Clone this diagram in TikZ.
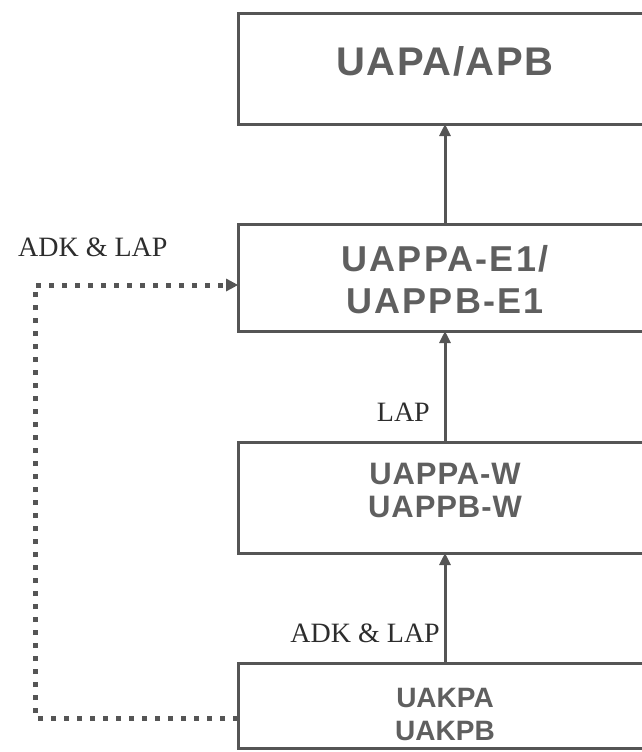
\documentclass[tikz,border=0pt]{standalone}
\usepackage{fontspec}
\setmainfont{Liberation Serif}
\newfontfamily\boxfont{Liberation Sans}
\usetikzlibrary{arrows.meta}
\definecolor{edgegray}{RGB}{85,85,85}
\definecolor{textgray}{RGB}{95,95,95}
\definecolor{labelgray}{RGB}{45,45,45}
\begin{document}
\begin{tikzpicture}[x=1pt,y=-1pt,
  box/.style={draw=edgegray,line width=3pt,minimum width=414pt,inner sep=0pt,outer sep=0pt,anchor=north west},
  boxtext/.style={text=textgray,font=\boxfont\bfseries,align=center,inner sep=0pt,anchor=base},
  lbl/.style={text=labelgray,inner sep=0pt,font=\fontsize{28}{30}\selectfont},
  uparrow/.style={draw=edgegray,line width=3pt,-{Triangle[length=12pt,width=11pt]}},
  dotline/.style={draw=edgegray,line width=5pt,dash pattern=on 5pt off 8pt,-{Triangle[length=12pt,width=13pt,line width=0pt]}}]
\useasboundingbox (0,0) rectangle (642,752);
\clip (0,0) rectangle (642,752);
% boxes
\node[box,minimum height=110pt] (b1) at (238,14) {};
\node[box,minimum height=107pt] (b2) at (238,224) {};
\node[box,minimum height=111pt] (b3) at (238,442) {};
\node[box,minimum height=85pt] (b4) at (238,663) {};
% box texts
\node[boxtext,font=\boxfont\bfseries\fontsize{40}{42}\selectfont\addfontfeature{LetterSpace=4}] (t1) at (445,75) {UAPA/APB};
\node[boxtext,font=\boxfont\bfseries\fontsize{36}{38}\selectfont\addfontfeature{LetterSpace=6}] (t2a) at (445,271) {UAPPA-E1/};
\node[boxtext,font=\boxfont\bfseries\fontsize{36}{38}\selectfont\addfontfeature{LetterSpace=6}] (t2b) at (445,313) {UAPPB-E1};
\node[boxtext,font=\boxfont\bfseries\fontsize{31}{33}\selectfont\addfontfeature{LetterSpace=3}] (t3a) at (445,484) {UAPPA-W};
\node[boxtext,font=\boxfont\bfseries\fontsize{31}{33}\selectfont\addfontfeature{LetterSpace=3}] (t3b) at (445,517) {UAPPB-W};
\node[boxtext,font=\boxfont\bfseries\fontsize{28}{30}\selectfont] (t4a) at (445,707) {UAKPA};
\node[boxtext,font=\boxfont\bfseries\fontsize{28}{30}\selectfont] (t4b) at (445,740) {UAKPB};
% arrows
\draw[uparrow] (b2.north) -- (b1.south);
\draw[uparrow] (b3.north) -- (b2.south);
\draw[uparrow] (b4.north) -- (b3.south);
% labels
\node[lbl,anchor=base west] (l1) at (18,256) {ADK \& LAP};
\node[lbl,anchor=base east] (l2) at (430,421) {LAP};
\node[lbl,anchor=base east] (l3) at (440,642) {ADK \& LAP};
% dotted connector
\coordinate (c1) at (35,285);
\draw[dotline] ([yshift=-12.5pt]b4.west) -| (c1) -- ([yshift=-7.5pt]b2.west);
\end{tikzpicture}
\end{document}
